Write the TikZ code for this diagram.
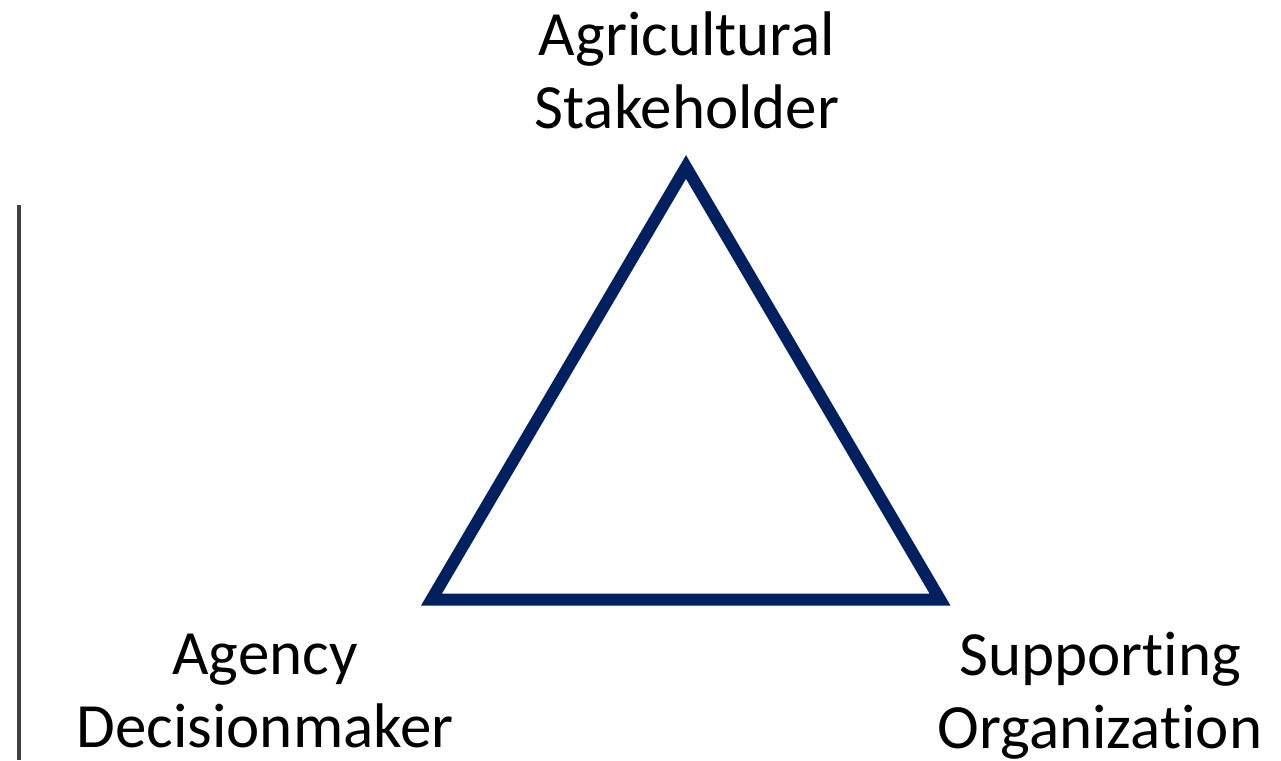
\documentclass[tikz,border=0pt]{standalone}
\usepackage{fontspec}
\setmainfont{Carlito}[Ligatures={NoCommon}]
\definecolor{triblue}{HTML}{002060}
\definecolor{bargrey}{HTML}{404040}
\begin{document}
\begin{tikzpicture}[x=1pt,y=-1pt,
  lbl/.style={font=\fontsize{63}{73}\selectfont, align=center, inner sep=0pt, anchor=base},
  tri/.style={draw=triblue, line width=12pt, line join=miter},
  bar/.style={draw=bargrey, line width=4pt}]
\useasboundingbox (0,0) rectangle (1281,760);
\coordinate (apex) at (686,167);
\coordinate (bl) at (431.5,599.5);
\coordinate (br) at (940,599.5);
\draw[tri] (apex) -- (bl) -- (br) -- cycle;
\coordinate (bartop) at (19,205);
\coordinate (barbot) at (19,760);
\draw[bar] (bartop) -- (barbot);
\node[lbl] (stake) at (687,128) {Agricultural\\Stakeholder};
\node[lbl] (agency) at (265,747) {Agency\\Decisionmaker};
\node[lbl] (support) at (1100,748) {Supporting\\Organization};
\end{tikzpicture}
\end{document}
